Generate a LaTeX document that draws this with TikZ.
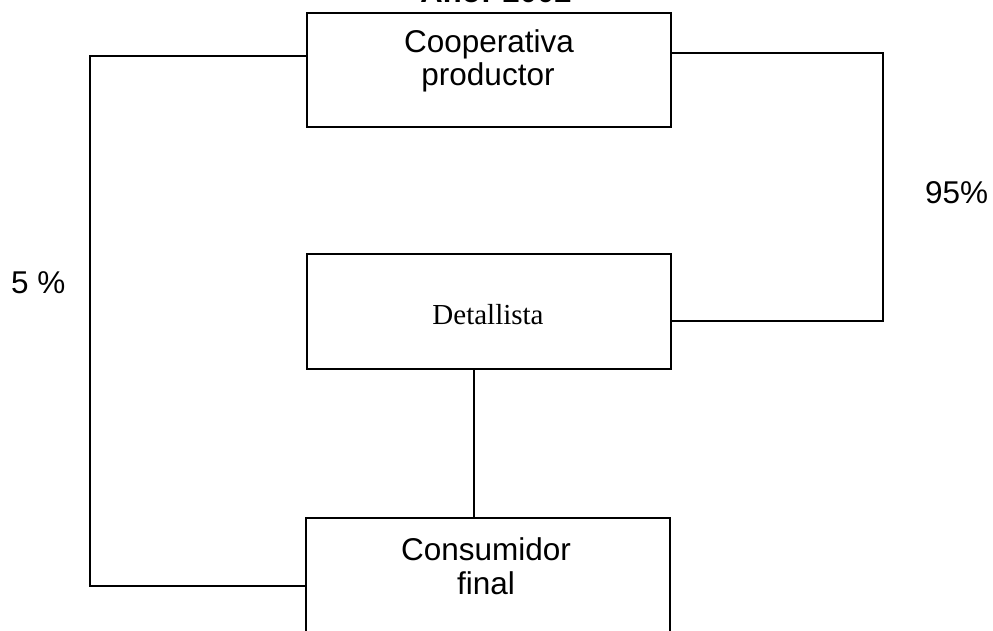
\documentclass[tikz,border=0pt]{standalone}
\usepackage{fontspec}
\setmainfont{Liberation Sans}
\newfontfamily\timesf{Liberation Serif}
\begin{document}
\begin{tikzpicture}[x=1pt,y=-1pt,
  box/.style={draw,line width=1.9pt,minimum width=364pt,inner sep=0pt},
  conn/.style={line width=1.9pt},
  lbl/.style={inner sep=0pt,font=\fontsize{31.5}{34}\selectfont},
  sflbl/.style={inner sep=0pt,font=\timesf\fontsize{29}{32}\selectfont}]
\useasboundingbox (0,0) rectangle (993,631);
\clip (0,0) rectangle (993,631);
% boxes
\node[box,minimum height=114pt] (coop) at (489,70) {};
\node[box,minimum height=115pt] (det) at (489,311.5) {};
\node[box,minimum height=130pt] (cons) at (488,583) {};
% texts
\node[lbl,anchor=base,font=\bfseries\fontsize{31}{34}\selectfont] (title) at (496,3) {Año: 2002};
\node[lbl,anchor=base] (coop1) at (489,53) {Cooperativa};
\node[lbl,anchor=base] (coop2) at (488,86) {productor};
\node[sflbl,anchor=base] (det1) at (488,324) {Detallista};
\node[lbl,anchor=base] (cons1) at (486,560) {Consumidor};
\node[lbl,anchor=base] (cons2) at (486,594) {final};
\node[lbl,anchor=base west] (p5) at (11,293) {5 \%};
\node[lbl,anchor=base west] (p95) at (925,204) {95\%};
% connectors
\coordinate (r1) at (883,53);
\coordinate (r2) at (883,321);
\coordinate (l1) at (90,56);
\coordinate (l2) at (90,586);
\coordinate (m1) at (474,0);
\draw[conn] (coop.east |- r1) -- (r1) -- (r2) -- (det.east |- r2);
\draw[conn] (coop.west |- l1) -- (l1) -- (l2) -- (cons.west |- l2);
\draw[conn] (det.south -| m1) -- (cons.north -| m1);
\end{tikzpicture}
\end{document}
